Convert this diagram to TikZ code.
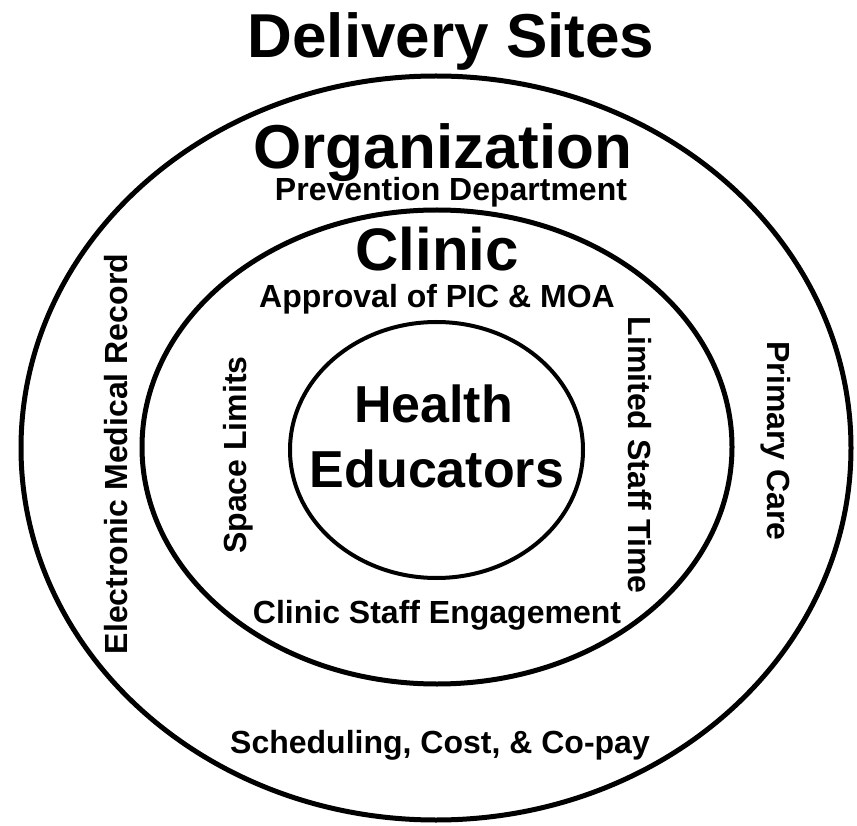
\documentclass[tikz,border=0pt]{standalone}
\usepackage{fontspec}
\setmainfont{Liberation Sans}
\usetikzlibrary{shapes.geometric}

\tikzset{
  ring/.style={draw, ellipse, line width=5pt, inner sep=0pt},
  huge label/.style={anchor=base, inner sep=0pt, font=\bfseries\fontsize{62}{62}\selectfont},
  mid label/.style={anchor=base, inner sep=0pt, font=\bfseries\fontsize{52}{52}\selectfont},
  small label/.style={anchor=base, inner sep=0pt, font=\bfseries\fontsize{32}{32}\selectfont}
}

\begin{document}
\begin{tikzpicture}[x=1pt, y=-1pt]
			\useasboundingbox (0,0) rectangle (857,826);
			% the three rings
			\node[ring, minimum width=830pt, minimum height=744pt] (sites) at (436,448) {};
			\node[ring, minimum width=590pt, minimum height=474pt] (clinicring) at (437,447) {};
			\node[ring, line width=4pt, minimum width=293pt, minimum height=256pt] (core) at (436.5,450) {};
			% headings
			\node[huge label] (title) at (451,58) {Delivery Sites};
			\node[huge label] (org) at (443,169) {Organization};
			\node[small label] (prev) at (451,201) {Prevention Department};
			\node[huge label, font=\bfseries\fontsize{60}{60}\selectfont] (clinic) at (437,271) {Clinic};
			\node[small label] (approval) at (437,308) {Approval of PIC \& MOA};
			\node[mid label] (health) at (433.5,422) {Health};
			\node[mid label] (educators) at (437,487) {Educators};
			% barriers
			\node[small label, rotate=90] (space) at (246,455) {Space Limits};
			\node[small label, rotate=-90] (stafftime) at (628,455) {Limited Staff Time};
			\node[small label] (engage) at (437,623) {Clinic Staff Engagement};
			\node[small label, rotate=90] (emr) at (127,454) {Electronic Medical Record};
			\node[small label, rotate=-90] (primary) at (767,441) {Primary Care};
			\node[small label] (sched) at (440,753) {Scheduling, Cost, \& Co-pay};
\end{tikzpicture}
\end{document}
